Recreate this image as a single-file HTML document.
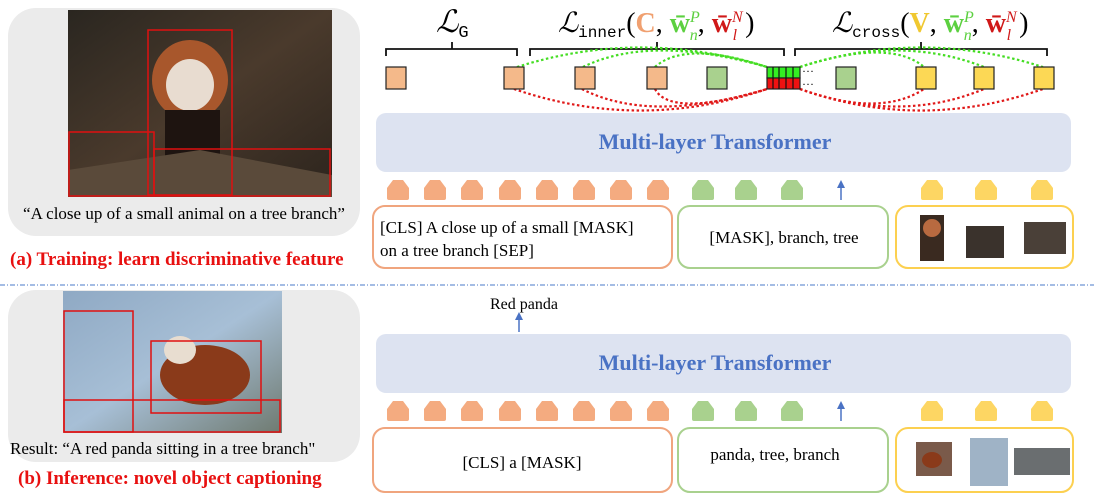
<!DOCTYPE html>
<html><head><meta charset="utf-8"><style>
body{margin:0;background:#fff;}
svg{display:block;font-family:"Liberation Serif",serif;}
</style></head><body>
<svg width="1094" height="500" viewBox="0 0 1094 500" xmlns="http://www.w3.org/2000/svg">
<defs>
<linearGradient id="g1" x1="0" y1="0" x2="1" y2="1"><stop offset="0" stop-color="#2a2620"/><stop offset="0.5" stop-color="#4a3a2c"/><stop offset="1" stop-color="#2c241d"/></linearGradient>
<linearGradient id="g2" x1="0" y1="0" x2="1" y2="1"><stop offset="0" stop-color="#8fa9c4"/><stop offset="0.5" stop-color="#a7bfd6"/><stop offset="1" stop-color="#6f7a70"/></linearGradient>
</defs>
<rect x="8" y="8" width="352" height="228" rx="28" fill="#ebebeb"/>
<rect x="68" y="10" width="264" height="187" fill="url(#g1)"/>
<ellipse cx="190" cy="80" rx="38" ry="40" fill="#a8572c"/>
<ellipse cx="190" cy="85" rx="24" ry="26" fill="#e8dcd0"/>
<rect x="165" y="110" width="55" height="80" fill="#1e1410"/>
<path d="M68 170 L200 150 L332 175 L332 197 L68 197Z" fill="#5a4a3a"/>
<g fill="none" stroke="#e01010" stroke-width="1.5">
<rect x="148" y="30" width="84" height="165"/>
<rect x="69" y="132" width="85" height="64"/>
<rect x="154" y="149" width="176" height="47"/>
</g>
<text x="184" y="219" font-size="17" text-anchor="middle">“A close up of a small animal on a tree branch”</text>
<text x="10" y="265" font-size="19" font-weight="bold" fill="#e81010">(a) Training: learn discriminative feature</text>
<line x1="0" y1="285" x2="1094" y2="285" stroke="#4a78c8" stroke-width="1" stroke-dasharray="5,2,1,2"/>
<rect x="8" y="290" width="352" height="172" rx="28" fill="#ebebeb"/>
<rect x="63" y="291" width="219" height="142" fill="url(#g2)"/>
<ellipse cx="205" cy="375" rx="45" ry="30" fill="#8a3a1a"/>
<ellipse cx="180" cy="350" rx="16" ry="14" fill="#e8ddd0"/>
<g fill="none" stroke="#e01010" stroke-width="1.5">
<rect x="64" y="311" width="69" height="121"/>
<rect x="151" y="341" width="110" height="72"/>
<rect x="64" y="400" width="216" height="32"/>
</g>
<text x="10" y="454" font-size="17">Result: “A red panda sitting in a tree branch"</text>
<text x="18" y="484" font-size="19" font-weight="bold" fill="#e81010">(b) Inference: novel object captioning</text>

<text x="436" y="32" font-size="31" font-style="italic">ℒ<tspan font-size="17" font-style="normal" font-family="Liberation Mono,monospace" dy="5">G</tspan></text>
<text x="558" y="32" font-size="28" font-style="italic">ℒ<tspan font-size="16" font-style="normal" font-family="Liberation Mono,monospace" dy="5">inner</tspan><tspan dy="-5" font-style="normal">(</tspan><tspan fill="#f0a070" font-weight="bold" font-style="normal">C</tspan><tspan font-style="normal">, </tspan><tspan fill="#5cd040" font-weight="bold" font-style="normal">w̄</tspan><tspan fill="#5cd040" font-size="16" dy="-10">P</tspan><tspan fill="#5cd040" font-size="16" dx="-10" dy="18">n</tspan><tspan dy="-8" font-style="normal">, </tspan><tspan fill="#d01818" font-weight="bold" font-style="normal">w̄</tspan><tspan fill="#d01818" font-size="16" dy="-10">N</tspan><tspan fill="#d01818" font-size="16" dx="-10" dy="18">l</tspan><tspan dy="-8" dx="8" font-style="normal">)</tspan></text>
<text x="832" y="32" font-size="28" font-style="italic">ℒ<tspan font-size="16" font-style="normal" font-family="Liberation Mono,monospace" dy="5">cross</tspan><tspan dy="-5" font-style="normal">(</tspan><tspan fill="#f0c830" font-weight="bold" font-style="normal">V</tspan><tspan font-style="normal">, </tspan><tspan fill="#5cd040" font-weight="bold" font-style="normal">w̄</tspan><tspan fill="#5cd040" font-size="16" dy="-10">P</tspan><tspan fill="#5cd040" font-size="16" dx="-10" dy="18">n</tspan><tspan dy="-8" font-style="normal">, </tspan><tspan fill="#d01818" font-weight="bold" font-style="normal">w̄</tspan><tspan fill="#d01818" font-size="16" dy="-10">N</tspan><tspan fill="#d01818" font-size="16" dx="-10" dy="18">l</tspan><tspan dy="-8" dx="8" font-style="normal">)</tspan></text>
<g fill="none" stroke="#111" stroke-width="1.8">
<path d="M386 56 V49 H517 V56 M452 49 V42"/>
<path d="M530 56 V49 H784 V56 M657 49 V42"/>
<path d="M795 56 V49 H1047 V56 M921 49 V42"/>
</g>
<g fill="none" stroke-width="2.2" stroke-dasharray="2.5,2.5">
<g stroke="#44dd22">
<path d="M517 67 Q640 28 767 67"/>
<path d="M583 67 Q650 34 767 67"/>
<path d="M655 67 Q685 40 767 67"/>
<path d="M800 67 Q920 28 1043 67"/>
<path d="M800 67 Q890 38 924 67"/>
<path d="M800 67 Q900 34 984 67"/>
</g>
<g stroke="#e01818">
<path d="M514 89 Q640 132 767 89"/>
<path d="M582 89 Q650 124 767 89"/>
<path d="M655 89 Q670 118 767 89"/>
<path d="M800 89 Q920 132 1043 89"/>
<path d="M800 89 Q880 118 924 89"/>
<path d="M800 89 Q900 124 984 89"/>
</g>
</g>
<g stroke="#222" stroke-width="1.2">
<rect x="386" y="67" width="20" height="22" fill="#f4b98a"/>
<rect x="504" y="67" width="20" height="22" fill="#f4b98a"/>
<rect x="575" y="67" width="20" height="22" fill="#f4b98a"/>
<rect x="647" y="67" width="20" height="22" fill="#f4b98a"/>
<rect x="707" y="67" width="20" height="22" fill="#a9d18e"/>
<rect x="836" y="67" width="20" height="22" fill="#a9d18e"/>
<rect x="916" y="67" width="20" height="22" fill="#fcd855"/>
<rect x="974" y="67" width="20" height="22" fill="#fcd855"/>
<rect x="1034" y="67" width="20" height="22" fill="#fcd855"/>
<rect x="767" y="67" width="33" height="11" fill="#33ee22"/>
<rect x="767" y="78" width="33" height="11" fill="#ee1111"/>
</g>
<g stroke="#111" stroke-width="1.2"><line x1="773" y1="67" x2="773" y2="89"/><line x1="779" y1="67" x2="779" y2="89"/><line x1="786" y1="67" x2="786" y2="89"/><line x1="793" y1="67" x2="793" y2="89"/></g>
<text x="802" y="75" font-size="12">···</text><text x="802" y="88" font-size="12">···</text>

<rect x="376" y="113" width="695" height="59" rx="10" fill="#dde3f1"/>
<text x="715" y="149" font-size="22" font-weight="bold" fill="#4a72c4" text-anchor="middle">Multi-layer Transformer</text>
<rect x="376" y="334" width="695" height="59" rx="10" fill="#dde3f1"/>
<text x="715" y="370" font-size="22" font-weight="bold" fill="#4a72c4" text-anchor="middle">Multi-layer Transformer</text>

<defs><path id="pent" d="M-5 -10 H5 L11 -2 V8 Q11 10 9 10 H-9 Q-11 10 -11 8 V-2Z"/></defs>
<g fill="#f4ab80">
<use href="#pent" x="398" y="190"/><use href="#pent" x="435" y="190"/><use href="#pent" x="472" y="190"/><use href="#pent" x="510" y="190"/><use href="#pent" x="547" y="190"/><use href="#pent" x="584" y="190"/><use href="#pent" x="621" y="190"/><use href="#pent" x="658" y="190"/>
<use href="#pent" x="398" y="411"/><use href="#pent" x="435" y="411"/><use href="#pent" x="472" y="411"/><use href="#pent" x="510" y="411"/><use href="#pent" x="547" y="411"/><use href="#pent" x="584" y="411"/><use href="#pent" x="621" y="411"/><use href="#pent" x="658" y="411"/>
</g>
<g fill="#a9d18e">
<use href="#pent" x="703" y="190"/><use href="#pent" x="746" y="190"/><use href="#pent" x="792" y="190"/>
<use href="#pent" x="703" y="411"/><use href="#pent" x="746" y="411"/><use href="#pent" x="792" y="411"/>
</g>
<g fill="#fdd663">
<use href="#pent" x="932" y="190"/><use href="#pent" x="986" y="190"/><use href="#pent" x="1042" y="190"/>
<use href="#pent" x="932" y="411"/><use href="#pent" x="986" y="411"/><use href="#pent" x="1042" y="411"/>
</g>
<g stroke="#4a72c4" stroke-width="1.5" fill="#4a72c4">
<line x1="841" y1="200" x2="841" y2="186"/><path d="M837 188 L841 180 L845 188Z" stroke="none"/>
<line x1="841" y1="421" x2="841" y2="407"/><path d="M837 409 L841 401 L845 409Z" stroke="none"/>
<line x1="519" y1="332" x2="519" y2="318"/><path d="M515 320 L519 312 L523 320Z" stroke="none"/>
</g>
<text x="490" y="309" font-size="16">Red panda</text>

<g fill="#fff" stroke-width="2">
<rect x="373" y="206" width="299" height="62" rx="12" stroke="#f0a57e"/>
<rect x="678" y="206" width="210" height="62" rx="12" stroke="#a9d18e"/>
<rect x="896" y="206" width="177" height="62" rx="12" stroke="#fcd050"/>
<rect x="373" y="428" width="299" height="64" rx="12" stroke="#f0a57e"/>
<rect x="678" y="428" width="210" height="64" rx="12" stroke="#a9d18e"/>
<rect x="896" y="428" width="177" height="64" rx="12" stroke="#fcd050"/>
</g>
<text x="380" y="233" font-size="17">[CLS] A close up of a small [MASK]</text>
<text x="380" y="256" font-size="17">on a tree branch [SEP]</text>
<text x="784" y="243" font-size="17" text-anchor="middle">[MASK], branch, tree</text>
<text x="522" y="468" font-size="17" text-anchor="middle">[CLS] a [MASK]</text>
<text x="775" y="460" font-size="17" text-anchor="middle">panda, tree, branch</text>
<rect x="920" y="215" width="24" height="46" fill="#3a2a20"/><ellipse cx="932" cy="228" rx="9" ry="9" fill="#b86a40"/>
<rect x="966" y="226" width="38" height="32" fill="#3a322c"/>
<rect x="1024" y="222" width="42" height="32" fill="#4a4038"/>
<rect x="916" y="442" width="36" height="34" fill="#7a5a4a"/><ellipse cx="932" cy="460" rx="10" ry="8" fill="#8a3a1a"/>
<rect x="970" y="438" width="38" height="48" fill="#9fb3c6"/>
<rect x="1014" y="448" width="56" height="27" fill="#6a6e70"/>
</svg>
</body></html>
